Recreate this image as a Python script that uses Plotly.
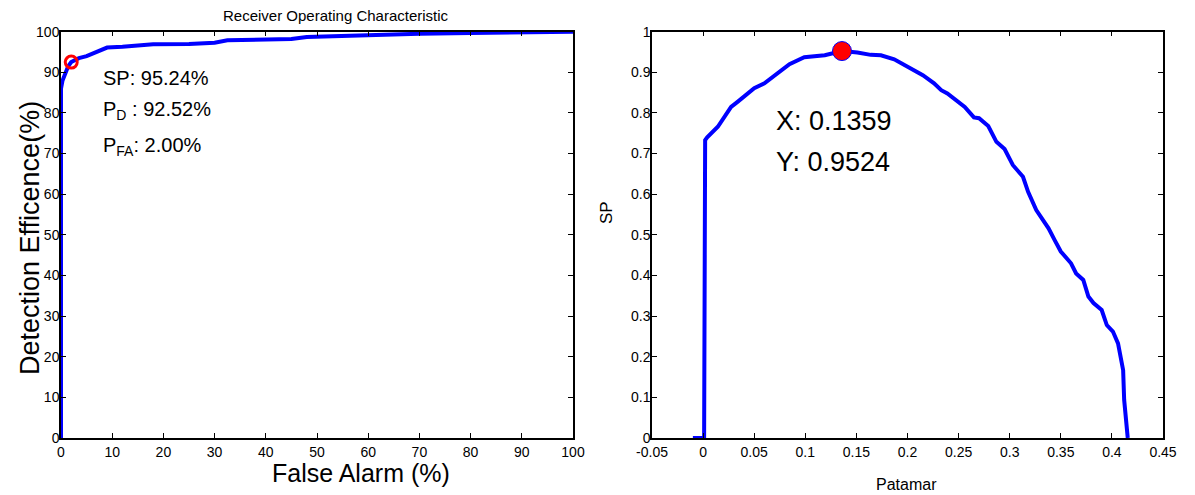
import plotly.graph_objects as go

# ROC curve: false alarm rate vs detection efficiency (both in %)
pfa = [0, 0, 0.3, 0.8, 1.4, 2.0, 3.5, 5.0, 6.5, 8.0, 9.0, 12.0, 15.0, 18.0,
       25.0, 30.0, 32.5, 40.0, 45.0, 48.0, 55.0, 62.0, 70.0, 80.0, 90.0, 100.0]
pd_eff = [0, 86.0, 88.0, 89.5, 91.5, 92.52, 93.5, 94.0, 94.7, 95.6, 96.1, 96.3,
          96.6, 96.9, 97.0, 97.3, 97.9, 98.1, 98.2, 98.7, 99.0, 99.3, 99.5,
          99.7, 99.9, 100.0]

# Chosen operating point
op_pfa = 2.00
op_pd = 92.52
op_sp = 95.24

# SP index as a function of the threshold (Patamar)
thr = [-0.010, 0.001, 0.002, 0.004, 0.0144, 0.0274, 0.034, 0.050, 0.060, 0.068,
       0.0845, 0.099, 0.119, 0.1359, 0.151, 0.164, 0.174, 0.187, 0.194, 0.200,
       0.207, 0.215, 0.226, 0.233, 0.239, 0.246, 0.256, 0.265, 0.270, 0.279,
       0.287, 0.295, 0.303, 0.313, 0.318, 0.326, 0.338, 0.344, 0.350, 0.360,
       0.365, 0.372, 0.377, 0.382, 0.390, 0.395, 0.401, 0.406, 0.411, 0.412,
       0.4155]
sp = [0, 0, 0.733, 0.740, 0.766, 0.815, 0.828, 0.861, 0.873, 0.889,
      0.920, 0.937, 0.942, 0.9524, 0.949, 0.943, 0.942, 0.932, 0.922, 0.912,
      0.904, 0.893, 0.873, 0.856, 0.848, 0.834, 0.815, 0.789, 0.787, 0.768,
      0.729, 0.711, 0.672, 0.643, 0.606, 0.561, 0.516, 0.487, 0.459, 0.430,
      0.405, 0.389, 0.348, 0.332, 0.315, 0.278, 0.262, 0.233, 0.167, 0.094,
      0]

best_thr = 0.1359
best_sp = 0.9524

# Tick labels
left_ticks = list(range(0, 101, 10))
right_x_vals = [-0.05, 0, 0.05, 0.1, 0.15, 0.2, 0.25, 0.3, 0.35, 0.4, 0.45]
right_x_text = ["-0.05", "0", "0.05", "0.1", "0.15", "0.2", "0.25", "0.3",
                "0.35", "0.4", "0.45"]
right_y_vals = [0, 0.1, 0.2, 0.3, 0.4, 0.5, 0.6, 0.7, 0.8, 0.9, 1]
right_y_text = ["0", "0.1", "0.2", "0.3", "0.4", "0.5", "0.6", "0.7", "0.8",
                "0.9", "1"]

FONT = "Liberation Sans, Arial, Helvetica, sans-serif"
BLUE = "#0000ff"
W, H = 1195, 495

fig = go.Figure()

fig.add_trace(go.Scatter(x=pfa, y=pd_eff, mode="lines",
                         line=dict(color=BLUE, width=4),
                         xaxis="x", yaxis="y", showlegend=False))
fig.add_trace(go.Scatter(x=[op_pfa], y=[op_pd], mode="markers",
                         marker=dict(symbol="circle-open", size=12, color="red",
                                     line=dict(color="red", width=3)),
                         xaxis="x", yaxis="y", showlegend=False))

fig.add_trace(go.Scatter(x=thr, y=sp, mode="lines",
                         line=dict(color=BLUE, width=4),
                         xaxis="x2", yaxis="y2", showlegend=False))
fig.add_trace(go.Scatter(x=[best_thr], y=[best_sp], mode="markers",
                         marker=dict(symbol="circle", size=19, color="red",
                                     line=dict(color=BLUE, width=1)),
                         xaxis="x2", yaxis="y2", showlegend=False))

axis_common = dict(showline=True, linecolor="black", linewidth=1.5,
                   mirror="ticks", ticks="inside", ticklen=5, tickwidth=1,
                   tickcolor="black", showgrid=False, zeroline=False,
                   automargin=False,
                   tickfont=dict(family=FONT, size=14, color="black"))
y_extra = dict(ticklabelstandoff=-3)

y_dom = [(H - 438) / H, (H - 31.7) / H]

fig.update_layout(
    width=W, height=H,
    margin=dict(l=0, r=0, t=0, b=0, pad=0, autoexpand=False),
    paper_bgcolor="white", plot_bgcolor="white",
    font=dict(family=FONT, color="black"),
    xaxis=dict(domain=[61 / W, 573 / W], range=[0, 100],
               tickvals=left_ticks, anchor="y", **axis_common),
    yaxis=dict(domain=y_dom, range=[0, 100],
               tickvals=left_ticks, anchor="x", **axis_common, **y_extra),
    xaxis2=dict(domain=[652 / W, 1163 / W], range=[-0.05, 0.45],
                tickvals=right_x_vals, ticktext=right_x_text, anchor="y2",
                **axis_common),
    yaxis2=dict(domain=y_dom, range=[0, 1],
                tickvals=right_y_vals, ticktext=right_y_text, anchor="x2",
                **axis_common, **y_extra),
)


def label(text, px, py, size, angle=0):
    """Centered text placed at a pixel position of the figure."""
    return dict(text=text, x=px / W, y=(H - py) / H, xref="paper", yref="paper",
                xanchor="center", yanchor="middle", showarrow=False,
                textangle=angle, font=dict(size=size))


annotations = [
    # titles and axis labels
    label("Receiver Operating Characteristic", 336, 16, 15),
    label("False Alarm (%)", 361, 473, 25),
    label("Detection Efficence(%)", 30, 238, 27, -90),
    label("Patamar", 907, 484, 16),
    label("SP", 606, 212, 17, -90),
    # operating point readout on the ROC plot
    dict(text=f"SP: {op_sp:.2f}%", x=7.9, y=88.6, xref="x", yref="y",
         xanchor="left", showarrow=False, font=dict(size=20)),
    dict(text=f"P<sub>D</sub> : {op_pd:.2f}%", x=7.9, y=80.5, xref="x", yref="y",
         xanchor="left", showarrow=False, font=dict(size=20)),
    dict(text=f"P<sub>FA</sub>: {op_pfa:.2f}%", x=7.9, y=71.8, xref="x", yref="y",
         xanchor="left", showarrow=False, font=dict(size=20)),
    # data tip on the SP curve
    dict(text=f"X: {best_thr:.4f}", x=0.069, y=0.780, xref="x2", yref="y2",
         xanchor="left", showarrow=False, font=dict(size=27)),
    dict(text=f"Y: {best_sp:.4f}", x=0.069, y=0.679, xref="x2", yref="y2",
         xanchor="left", showarrow=False, font=dict(size=27)),
]
fig.update_layout(annotations=annotations)

fig.write_html("out.html")
